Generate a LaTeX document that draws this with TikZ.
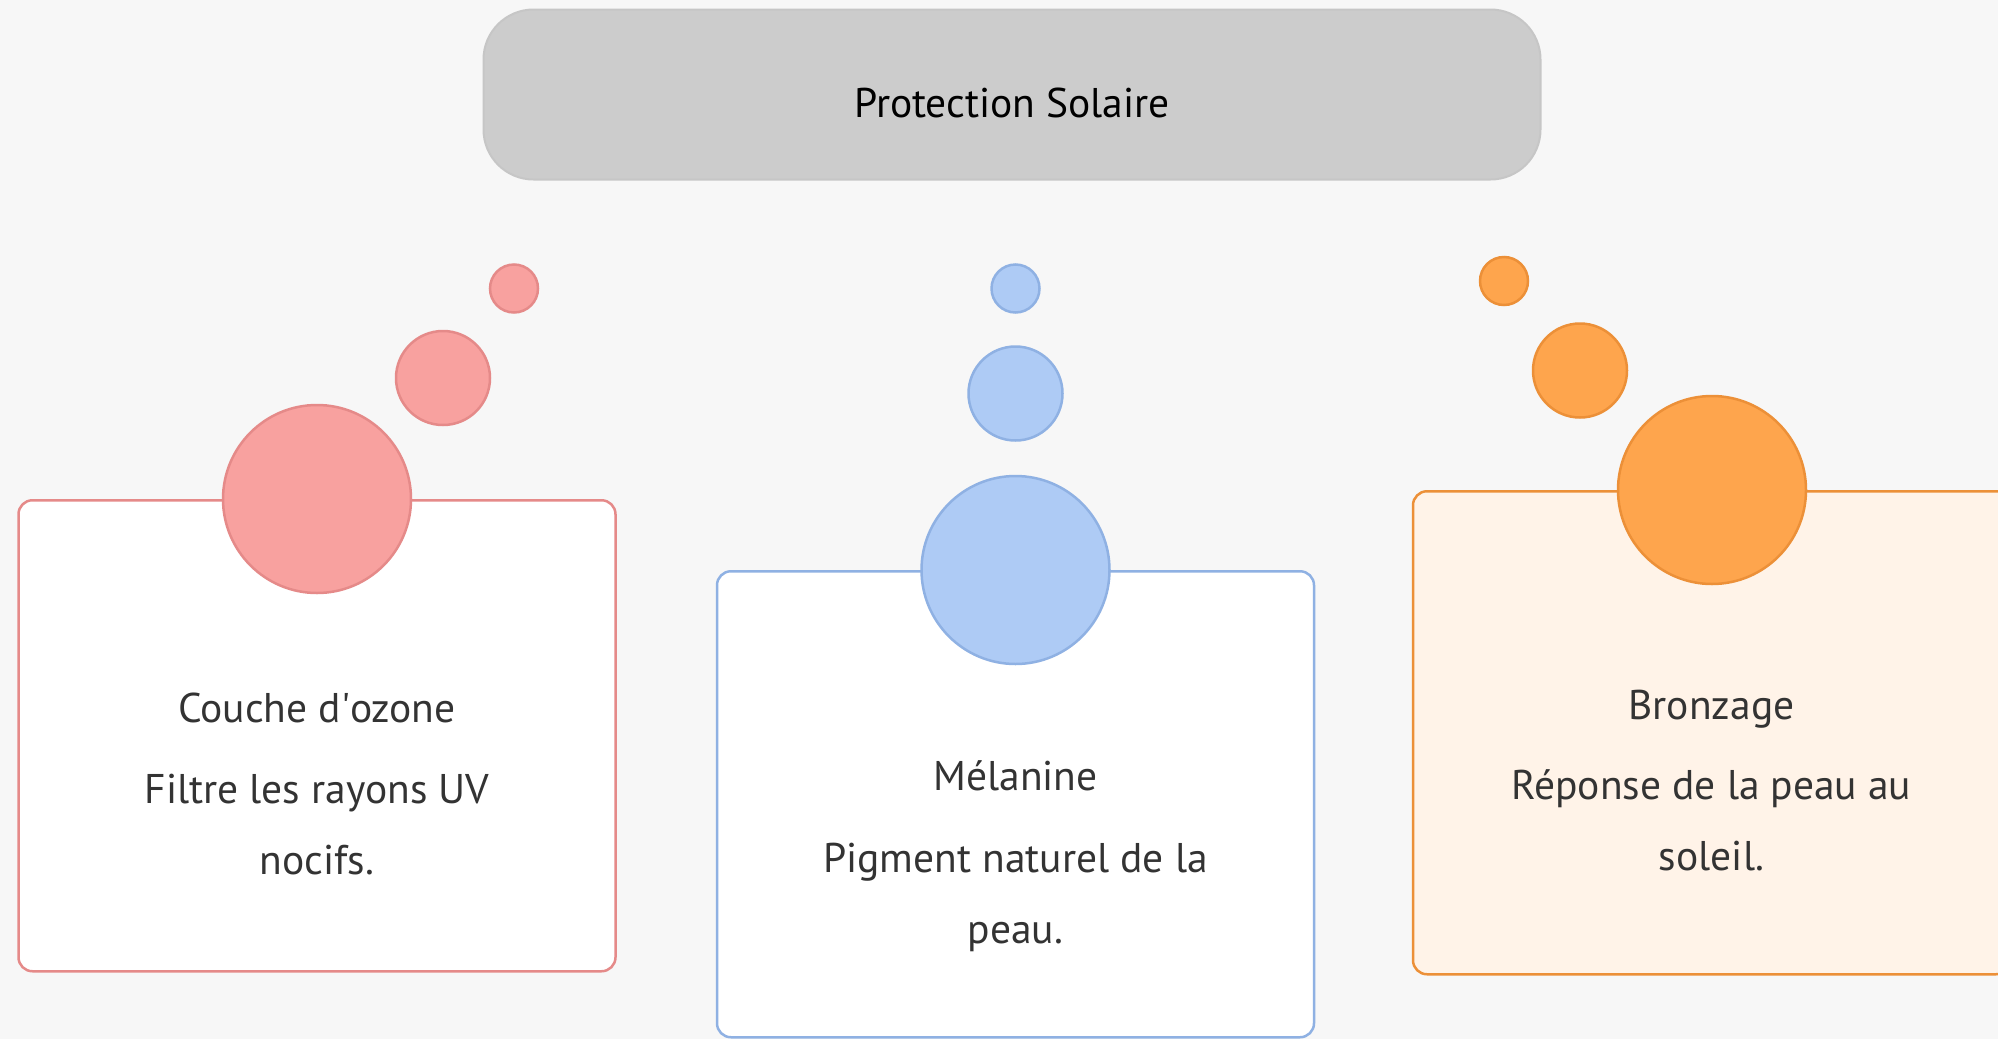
\documentclass[tikz,border=0pt]{standalone}
\usepackage{fontspec}
\setmainfont{PT Sans}

\definecolor{bgpaper}{HTML}{F7F7F7}
\definecolor{titlefill}{HTML}{CCCCCC}
\definecolor{titleline}{HTML}{C6C6C6}
\definecolor{inkgray}{HTML}{333333}
\definecolor{redfill}{HTML}{F8A19F}
\definecolor{redline}{HTML}{E58A89}
\definecolor{bluefill}{HTML}{AECBF5}
\definecolor{blueline}{HTML}{8FB1E3}
\definecolor{orangefill}{HTML}{FEA54D}
\definecolor{orangeline}{HTML}{EC9038}
\definecolor{orangecard}{HTML}{FFF3E8}

\begin{document}
\begin{tikzpicture}[x=1pt, y=-1pt,
    card/.style={draw, line width=2.5pt, rounded corners=14pt, inner sep=0pt,
      minimum width=597pt, anchor=north},
    bubble/.style={circle, draw, line width=2.5pt, inner sep=0pt},
    headtxt/.style={font=\fontsize{41.5}{48}\selectfont, text=inkgray, anchor=base},
    desctxt/.style={font=\fontsize{41.5}{71}\selectfont, text=inkgray, align=center, anchor=base}]
  \fill[bgpaper] (0,0) rectangle (1998,1039);
  \useasboundingbox (0,0) rectangle (1998,1039);
  \clip (0,0) rectangle (1998,1039);

  % title banner
  \node[draw=titleline, fill=titlefill, line width=2pt, rounded corners=50pt,
    minimum width=1057pt, minimum height=170pt, text height=45pt, text depth=0pt,
    font=\fontsize{41.5}{48}\selectfont] (title) at (1012,94.5) {Protection Solaire};

  % ozone - red
  \node[card, draw=redline, fill=white, minimum height=471pt] (ozonecard) at (317,499) {};
  \node[bubble, draw=redline, fill=redfill, minimum size=188pt] (ozonebig) at (317,499) {};
  \node[bubble, draw=redline, fill=redfill, minimum size=94pt] (ozonemid) at (443,378) {};
  \node[bubble, draw=redline, fill=redfill, minimum size=48pt] (ozonesmall) at (514,288.5) {};
  \node[headtxt] (ozonehead) at (317,722) {Couche d\textquotesingle ozone};
  \node[desctxt] (ozonedesc) at (317,874) {Filtre les rayons UV\\nocifs.};

  % melanine - blue
  \node[card, draw=blueline, fill=white, minimum height=466pt] (melcard) at (1015.5,570) {};
  \node[bubble, draw=blueline, fill=bluefill, minimum size=188pt] (melbig) at (1015.5,570) {};
  \node[bubble, draw=blueline, fill=bluefill, minimum size=94pt] (melmid) at (1015.5,393.5) {};
  \node[bubble, draw=blueline, fill=bluefill, minimum size=48pt] (melsmall) at (1015.5,288.5) {};
  \node[headtxt] (melhead) at (1015.5,790) {Mélanine};
  \node[desctxt] (meldesc) at (1015.5,943) {Pigment naturel de la\\peau.};

  % bronzage - orange
  \node[card, draw=orangeline, fill=orangecard, minimum height=483pt] (bronzecard) at (1711.5,490) {};
  \node[bubble, draw=orangeline, fill=orangefill, minimum size=188pt] (bronzebig) at (1712,490) {};
  \node[bubble, draw=orangeline, fill=orangefill, minimum size=94pt] (bronzemid) at (1580,370.5) {};
  \node[bubble, draw=orangeline, fill=orangefill, minimum size=48pt] (bronzesmall) at (1504,281) {};
  \node[headtxt] (bronzehead) at (1711.5,719) {Bronzage};
  \node[desctxt] (bronzedesc) at (1711.5,870) {Réponse de la peau au\\soleil.};
\end{tikzpicture}
\end{document}
